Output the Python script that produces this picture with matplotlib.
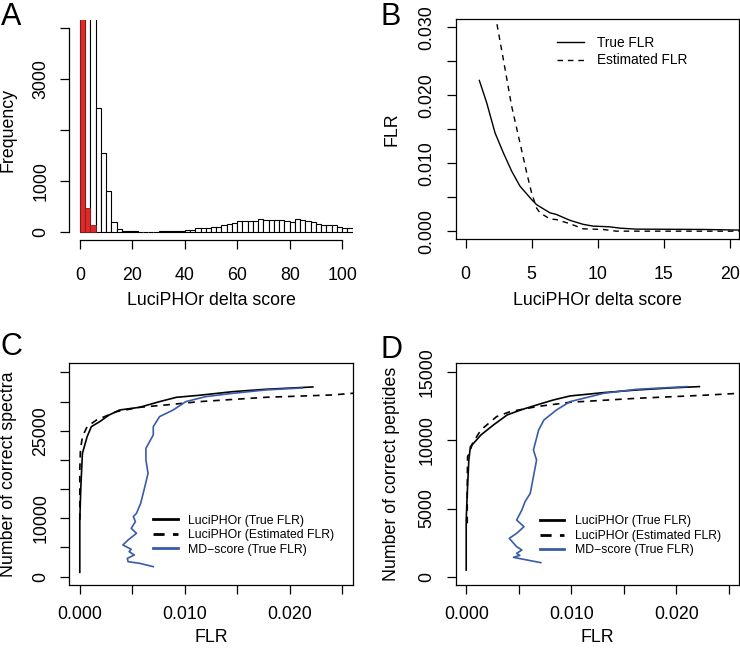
import numpy as np
import matplotlib
matplotlib.use("Agg")
import matplotlib.pyplot as plt

plt.rcParams['font.family'] = ['Liberation Sans', 'DejaVu Sans']

# Panel A: histogram of LuciPHOr delta scores (bins of width 2)
bin_left = np.arange(0, 104, 2)
hist_total = [9000, 6000, 4500, 2440, 1555, 800, 197, 50, 20, 10,
              8, 6, 5, 5, 6, 8, 10, 12, 15, 20,
              33, 46, 66, 79, 79, 92, 105, 125, 151, 177,
              210, 210, 210, 210, 249, 236, 236, 230, 230, 217,
              203, 243, 223, 217, 190, 151, 144, 144, 131, 92, 66, 66]
# false localizations (red), only the first three bins are non-empty
false_left = [0, 2, 4]
hist_false = [9000, 472, 130]

# Panel B: FLR vs delta score
true_delta = [1.03, 1.59, 2.22, 2.85, 3.48, 4.11, 4.99, 5.37, 6.38, 6.88, 7.89,
              8.9, 9.66, 10.9, 11.7, 12.9, 18.0, 21.0]
true_flr = [0.0222, 0.0189, 0.01448, 0.01154, 0.00884, 0.00663, 0.00466, 0.0039,
            0.0027, 0.00245, 0.0016, 0.001, 0.00074, 0.00064, 0.00044, 0.0003,
            0.00025, 0.00015]
est_delta = [2.1, 2.3, 2.85, 3.48, 4.11, 4.62, 4.99, 5.37, 5.62, 6.38, 6.88, 7.89,
             8.9, 10.4, 11.4, 21.0]
est_flr = [0.0335, 0.0312, 0.0253, 0.0184, 0.013, 0.0086, 0.00565, 0.0034, 0.0027,
           0.0018, 0.0017, 0.0011, 0.00034, 0.00025, 0.0, 0.0]

# Panel C: correct spectra vs FLR
c_true_flr = [0, 0, 0.0001, 0.00025, 0.0007, 0.0011, 0.0019, 0.0028, 0.0038, 0.0057,
              0.0076, 0.0092, 0.0114, 0.0146, 0.0177, 0.0209, 0.0222]
c_true_n = [743, 9714, 15430, 21140, 24000, 25714, 26570, 27714, 28571, 29030,
            30000, 30740, 31090, 31714, 32114, 32400, 32514]
c_est_flr = [0, 0, 0.00006, 0.00025, 0.0007, 0.0016, 0.0035, 0.0057, 0.0082, 0.0114,
             0.0177, 0.024, 0.0265]
c_est_n = [9714, 18290, 21714, 24000, 25714, 26857, 28286, 29030, 29430, 30000,
           30743, 31140, 31500]
c_md_flr = [0.007, 0.0057, 0.0046, 0.00453, 0.0052, 0.0047, 0.0049, 0.0041, 0.0046,
            0.0054, 0.0049, 0.0053, 0.0051, 0.0054, 0.0058, 0.0062, 0.0065, 0.0063,
            0.0063, 0.007, 0.007, 0.0076, 0.0089, 0.0101, 0.012, 0.0146, 0.0177, 0.0212]
c_md_n = [1714, 2286, 2571, 3143, 3714, 4286, 4686, 5430, 6286, 7430, 8286, 9430,
          10290, 10857, 12571, 15430, 17714, 20000, 22000, 24290, 25714, 27430,
          28571, 30000, 30857, 31430, 32000, 32343]

# Panel D: correct peptides vs FLR
d_true_flr = [0, 0, 0.0001, 0.00025, 0.0004, 0.0007, 0.0014, 0.0026, 0.0039, 0.0052,
              0.0067, 0.0083, 0.0099, 0.0131, 0.0162, 0.0194, 0.0222]
d_true_n = [490, 4160, 6120, 8570, 9545, 9790, 10400, 11140, 11870, 12240, 12600,
            12970, 13265, 13510, 13700, 13850, 13950]
d_est_flr = [0.0001, 0.0001, 0.00013, 0.0003, 0.0006, 0.0014, 0.0029, 0.0042, 0.0067,
             0.0099, 0.0162, 0.0226, 0.0265]
d_est_n = [3916, 6600, 8810, 9055, 9790, 10770, 11750, 12115, 12480, 12800, 13090,
           13315, 13480]
d_md_flr = [0.0071, 0.0058, 0.0045, 0.0051, 0.0048, 0.0053, 0.0048, 0.0041, 0.0048,
            0.0055, 0.0048, 0.0053, 0.0056, 0.0061, 0.0064, 0.0067, 0.0064, 0.0069,
            0.0074, 0.0086, 0.0099, 0.0131, 0.0162, 0.021]
d_md_n = [1030, 1224, 1420, 1566, 1713, 1958, 2200, 2815, 3180, 3670, 4160, 4895,
          5500, 6120, 7340, 8565, 9300, 10770, 11500, 12240, 12850, 13460, 13750, 13950]

legend_labels = ["LuciPHOr (True FLR)", "LuciPHOr (Estimated FLR)", "MD\u2212score (True FLR)"]

BLUE = '#3a5ba8'
RED = '#dc2a2a'
FS = 12.8
W, H = 740, 650


def rect(left, top, right, bottom):
    return [left / W, 1 - bottom / H, (right - left) / W, (bottom - top) / H]


def style(ax, ylab_x, xlab_y, xpad=12.3):
    # R-like axes: outward ticks, y labels parallel to the axis
    ax.tick_params(direction='out', length=6.8, width=0.9, labelsize=FS)
    ax.tick_params(axis='x', pad=xpad)
    ax.tick_params(axis='y', pad=10.5)
    for lab in ax.get_yticklabels():
        lab.set_rotation(90)
        lab.set_rotation_mode('anchor')
        lab.set_ha('center')
        lab.set_va('baseline')
    for s in ax.spines.values():
        s.set_linewidth(0.9)
    ax.yaxis.set_label_coords(ylab_x, 0.5)
    ax.xaxis.set_label_coords(0.5, xlab_y)


fig = plt.figure(figsize=(7.4, 6.5), dpi=100)

# ---- A ----
axA = fig.add_axes(rect(69.3, 20, 352.7, 240))
axA.bar(bin_left, hist_total, width=2, align='edge', color='white', edgecolor='black', linewidth=0.8)
axA.bar(false_left, hist_false, width=2, align='edge', color=RED, edgecolor='#8a1a1a', linewidth=0.6)
axA.set_xlim(-4, 104)
axA.set_ylim(-160, 4160)
axA.spines['top'].set_visible(False)
axA.spines['right'].set_visible(False)
axA.spines['bottom'].set_bounds(0, 100)
axA.spines['left'].set_bounds(0, 4000)
axA.set_xticks([0, 20, 40, 60, 80, 100])
axA.set_yticks([0, 1000, 2000, 3000, 4000])
axA.set_yticklabels(['0', '1000', '', '3000', ''])
axA.set_xlabel("LuciPHOr delta score", fontsize=FS)
axA.set_ylabel("Frequency", fontsize=FS)
style(axA, -0.185, -0.235)

# ---- B ----
axB = fig.add_axes(rect(455.7, 19.3, 739.3, 239.3))
axB.plot(true_delta, true_flr, color='black', lw=1.0, label="True FLR")
axB.plot(est_delta, est_flr, color='black', lw=1.0, dashes=(4, 3.5), label="Estimated FLR")
axB.set_xlim(-0.76, 20.73)
axB.set_ylim(-0.0012, 0.0312)
axB.set_xticks([0, 5, 10, 15, 20])
axB.set_yticks([0, 0.005, 0.010, 0.015, 0.020, 0.025, 0.030])
axB.set_yticklabels(['0.000', '', '0.010', '', '0.020', '', '0.030'])
axB.set_xlabel("LuciPHOr delta score", fontsize=FS)
axB.set_ylabel("FLR", fontsize=FS)
axB.legend(loc='upper left', bbox_to_anchor=(0.356, 0.924), frameon=False, fontsize=9.8,
           borderpad=0, borderaxespad=0, handlelength=2.0, handletextpad=1.0, labelspacing=0.25)
style(axB, -0.196, -0.238)

# ---- C and D ----
for box, data, ylim, yticks, ylabs, ylabel, leg_xy, ylab_x in [
    ((69.3, 363.3, 352.7, 585),
     (c_true_flr, c_true_n, c_est_flr, c_est_n, c_md_flr, c_md_n),
     (-1430, 36570), [0, 5000, 10000, 15000, 20000, 25000, 30000, 35000],
     ['0', '', '10000', '', '', '25000', '', ''], "Number of correct spectra", (0.296, 0.317), -0.185),
    ((455.7, 363.3, 739.3, 585),
     (d_true_flr, d_true_n, d_est_flr, d_est_n, d_md_flr, d_md_n),
     (-610, 15660), [0, 5000, 10000, 15000],
     ['0', '5000', '10000', '15000'], "Number of correct peptides", (0.297, 0.314), -0.196),
]:
    ax = fig.add_axes(rect(*box))
    tx, ty, ex, ey, mx, my = data
    ax.plot(tx, ty, color='black', lw=1.2)
    ax.plot(ex, ey, color='black', lw=1.2, dashes=(4, 3.5))
    ax.plot(mx, my, color=BLUE, lw=1.2)
    ax.set_xlim(-0.001, 0.026)
    ax.set_ylim(*ylim)
    ax.set_xticks([0, 0.005, 0.010, 0.015, 0.020, 0.025])
    ax.set_xticklabels(['0.000', '', '0.010', '', '0.020', ''])
    ax.set_yticks(yticks)
    ax.set_yticklabels(ylabs)
    ax.set_xlabel("FLR", fontsize=FS)
    ax.set_ylabel(ylabel, fontsize=FS)
    handles = [plt.Line2D([], [], color='black', lw=2),
               plt.Line2D([], [], color='black', lw=2, dashes=(4, 3)),
               plt.Line2D([], [], color=BLUE, lw=2)]
    ax.legend(handles, legend_labels, loc='upper left', bbox_to_anchor=leg_xy, frameon=False,
              fontsize=8.8, borderpad=0, borderaxespad=0, handlelength=2.0,
              handletextpad=0.85, labelspacing=0.2)
    style(ax, ylab_x, -0.198, xpad=8.5)

for letter, x, y in [("A", 1, 25), ("B", 381, 25), ("C", 1, 355), ("D", 381, 358)]:
    fig.text(x / W, 1 - y / H, letter, fontsize=22, ha='left', va='baseline')

fig.savefig("out.png", dpi=100)
